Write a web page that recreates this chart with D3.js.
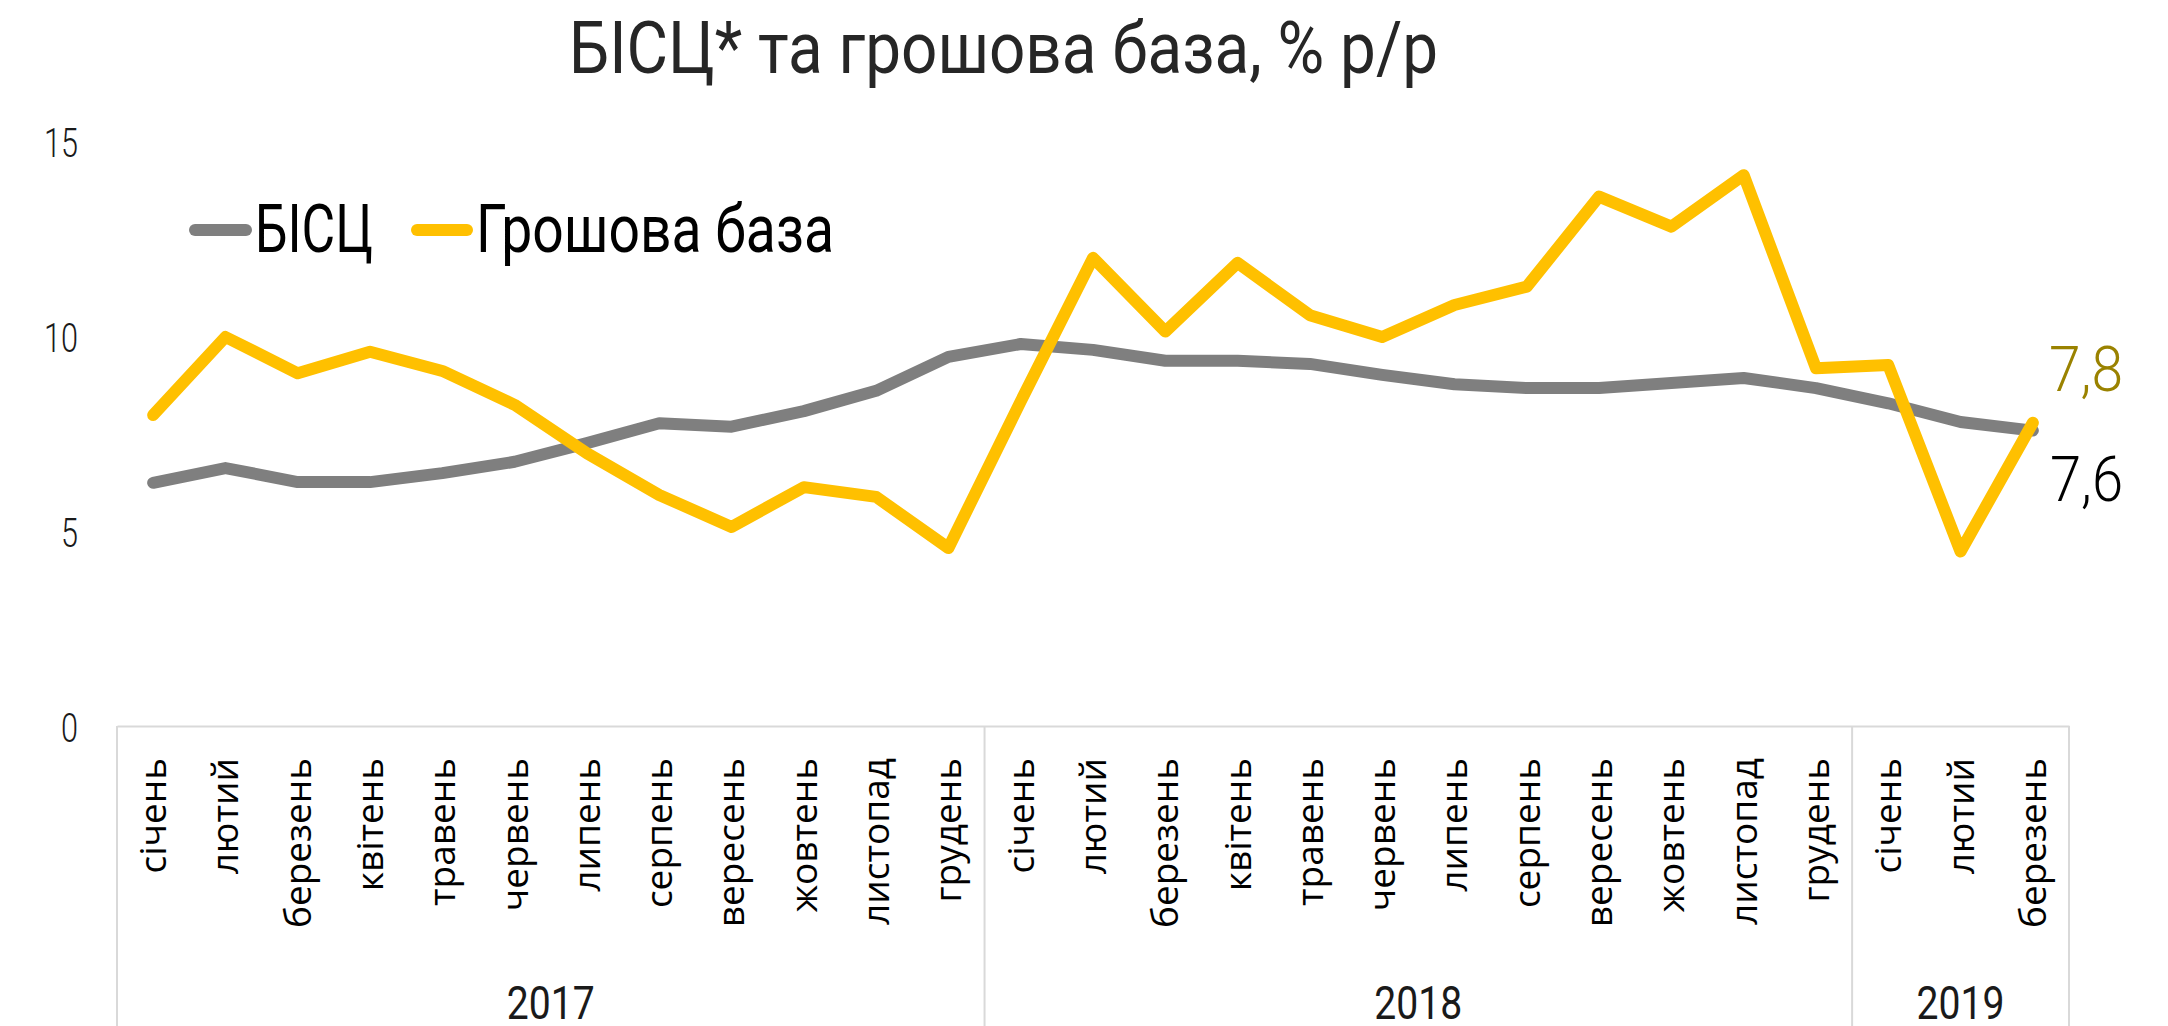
<!DOCTYPE html>
<html>
<head>
<meta charset="utf-8">
<script src="https://cdn.jsdelivr.net/npm/d3@7"></script>
<style>
  html, body { margin: 0; padding: 0; background: #ffffff; }
  svg { display: block; }
</style>
</head>
<body>
<svg id="chart" width="2168" height="1026"></svg>
<script>
// ---- data ----
const title = "БІСЦ* та грошова база, % р/р";
const months = ["січень","лютий","березень","квітень","травень","червень","липень","серпень","вересень","жовтень","листопад","грудень"];
const years = ["2017","2018","2019"];
const yearMonthCounts = [12, 12, 3];
const seriesNames = ["БІСЦ", "Грошова база"];
const bisc = [6.26,6.64,6.28,6.28,6.51,6.8,7.28,7.79,7.7,8.1,8.62,9.49,
              9.82,9.67,9.39,9.39,9.31,9.03,8.79,8.69,8.69,8.82,8.95,8.69,
              8.3,7.82,7.6];
const moneyBase = [8.0,10.0,9.07,9.62,9.13,8.26,7.02,5.95,5.13,6.15,5.9,4.59,
                   8.35,12.03,10.14,11.9,10.56,10.0,10.82,11.29,13.6,12.83,14.15,9.2,
                   9.28,4.5,7.8];
const yTicks = [0, 5, 10, 15];
const endLabels = ["7,8", "7,6"];

// categories built from months/years
const categories = [];
years.forEach((yr, yi) => {
  for (let m = 0; m < yearMonthCounts[yi]; m++) categories.push({month: months[m], year: yr});
});

// ---- layout ----
const svg = d3.select("#chart");
const colGray = "#7f7f7f", colYellow = "#ffc000", colOlive = "#9a8200", colAxis = "#d9d9d9";

const x = d3.scaleBand().domain(d3.range(categories.length)).range([117, 2069]).padding(0);
const y = d3.scaleLinear().domain([0, 15]).range([727, 142]);
const cx = i => x(i) + x.bandwidth() / 2;

function fitWidth(sel, w) {
  sel.attr("textLength", w).attr("lengthAdjust", "spacingAndGlyphs");
}

// title
svg.append("text")
  .attr("x", 569).attr("y", 73)
  .attr("font-family", "Roboto, 'Noto Sans', sans-serif")
  .attr("font-size", 72).attr("fill", "#262626")
  .text(title)
  .call(fitWidth, 869);

// y axis (labels only)
const yAxis = svg.append("g")
  .attr("transform", "translate(78,0)")
  .call(d3.axisLeft(y).tickValues(yTicks).tickSize(0).tickPadding(0).tickFormat(d3.format("d")));
yAxis.select(".domain").remove();
yAxis.selectAll("text")
  .attr("font-family", "Roboto, 'Noto Sans', sans-serif")
  .attr("font-weight", 300)
  .attr("font-size", 41).attr("fill", "#1a1a1a")
  .attr("dy", "0.35em")
  .each(function(d) { d3.select(this).call(fitWidth, String(d).length * 17); });

// x axis: month labels
const xAxis = svg.append("g")
  .attr("transform", "translate(0,726)")
  .call(d3.axisBottom(x).tickSize(0).tickFormat(i => categories[i].month));
xAxis.select(".domain").attr("stroke", colAxis).attr("stroke-width", 2);
xAxis.selectAll("text")
  .attr("font-family", "'Open Sans', sans-serif")
  .attr("font-size", 37).attr("fill", "#000")
  .attr("transform", "rotate(-90)")
  .attr("text-anchor", "end")
  .attr("x", -32).attr("y", 0).attr("dy", "0.35em");

// year group separators and labels
let start = 0;
const bounds = [0];
yearMonthCounts.forEach(c => { start += c; bounds.push(start); });
svg.append("g").selectAll("line")
  .data(bounds)
  .join("line")
  .attr("x1", b => b < categories.length ? x(b) : x(categories.length - 1) + x.bandwidth())
  .attr("x2", b => b < categories.length ? x(b) : x(categories.length - 1) + x.bandwidth())
  .attr("y1", 726).attr("y2", 1026)
  .attr("stroke", colAxis).attr("stroke-width", 2);

svg.append("g").selectAll("text")
  .data(years)
  .join("text")
  .attr("x", (d, i) => {
    const a = x(bounds[i]);
    const b = x(bounds[i + 1] - 1) + x.bandwidth();
    return (a + b) / 2;
  })
  .attr("y", 1019)
  .attr("text-anchor", "middle")
  .attr("font-family", "Roboto, 'Noto Sans', sans-serif")
  .attr("font-size", 46).attr("fill", "#1a1a1a")
  .text(d => d)
  .call(fitWidth, 88);

// lines
const line = d3.line().x((d, i) => cx(i)).y(d => y(d));
svg.append("path")
  .datum(bisc)
  .attr("d", line)
  .attr("fill", "none").attr("stroke", colGray).attr("stroke-width", 12)
  .attr("stroke-linejoin", "round").attr("stroke-linecap", "round");
svg.append("path")
  .datum(moneyBase)
  .attr("d", line)
  .attr("fill", "none").attr("stroke", colYellow).attr("stroke-width", 12)
  .attr("stroke-linejoin", "round").attr("stroke-linecap", "round");

// end labels
svg.append("text")
  .attr("x", 2049).attr("y", 391)
  .attr("font-family", "Roboto, 'Noto Sans', sans-serif").attr("font-weight", 300)
  .attr("font-size", 63).attr("fill", colOlive)
  .text(endLabels[0]).call(fitWidth, 74);
svg.append("text")
  .attr("x", 2050).attr("y", 501)
  .attr("font-family", "Roboto, 'Noto Sans', sans-serif").attr("font-weight", 300)
  .attr("font-size", 63).attr("fill", "#000")
  .text(endLabels[1]).call(fitWidth, 73);

// legend
const legend = svg.append("g");
const legendItems = [
  {name: seriesNames[0], color: colGray, x1: 195, x2: 246, tx: 255, tw: 118},
  {name: seriesNames[1], color: colYellow, x1: 417, x2: 467, tx: 476, tw: 358}
];
legendItems.forEach(it => {
  legend.append("line")
    .attr("x1", it.x1).attr("x2", it.x2).attr("y1", 230).attr("y2", 230)
    .attr("stroke", it.color).attr("stroke-width", 12).attr("stroke-linecap", "round");
  legend.append("text")
    .attr("x", it.tx).attr("y", 252)
    .attr("font-family", "Roboto, 'Noto Sans', sans-serif")
    .attr("font-size", 66).attr("fill", "#000")
    .text(it.name).call(fitWidth, it.tw);
});
</script>
</body>
</html>
